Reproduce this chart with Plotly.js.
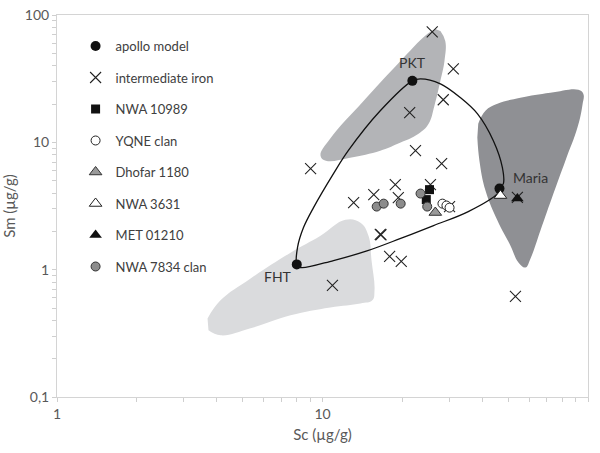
<!DOCTYPE html>
<html><head><meta charset="utf-8">
<script src="https://cdn.plot.ly/plotly-3.0.1.min.js"></script>
<style>html,body{margin:0;padding:0;background:#fff}#chart{width:600px;height:453px}</style>
</head><body><div id="chart"></div>
<script>
// Apollo model end-members
const apolloNames = ["FHT", "PKT", "Maria"];
const apolloSc = [8.0, 21.8, 46.4];
const apolloSm = [1.10, 30.4, 4.33];
// Apollo mixing curve (closed loop)
const curveSc = [8.0, 8.05, 8.48, 9.25, 11.0, 12.5, 16.5, 21.8, 23.4, 27.8, 33.1, 38.3, 44.0, 47.6, 48.0, 46.4, 45.6, 35.4, 26.2, 19.7, 14.8, 11.0, 8.26, 8.0];
const curveSm = [1.10, 1.49, 2.14, 3.07, 5.68, 8.6, 17.7, 30.4, 31.5, 28.8, 22.4, 16.8, 10.3, 6.33, 4.74, 4.33, 3.96, 2.86, 2.22, 1.76, 1.41, 1.18, 1.04, 1.10];
// Fields
const fhtSc = [3.69, 4.13, 5.36, 7.58, 9.83, 12.2, 13.9, 14.9, 15.3, 15.7, 15.4, 13.9, 10.7, 7.58, 5.36, 4.13, 3.72];
const fhtSm = [0.414, 0.574, 0.853, 1.36, 1.85, 2.47, 2.34, 1.85, 1.18, 0.687, 0.574, 0.543, 0.505, 0.438, 0.346, 0.305, 0.334];
const pktSc = [27.8, 29.0, 28.8, 27.8, 26.4, 25.1, 23.0, 19.2, 16.5, 12.7, 10.3, 9.83, 10.7, 14.3, 19.2, 24.8, 26.6];
const pktSm = [75.0, 62.6, 43.6, 30.4, 19.4, 14.0, 11.7, 9.76, 8.6, 7.58, 7.18, 7.86, 10.7, 21.2, 41.3, 71.0, 77.8];
const mariaSc = [38.6, 41.1, 45.6, 55.6, 72.1, 92.0, 96.0, 95.2, 91.2, 82.2, 74.1, 66.2, 60.7, 58.1, 54.7, 51.0, 45.6, 41.1, 39.0, 38.3];
const mariaSm = [14.0, 17.7, 20.1, 22.4, 24.5, 25.9, 24.1, 19.4, 13.0, 7.18, 3.96, 2.03, 1.22, 1.04, 1.14, 1.55, 2.43, 4.18, 7.18, 10.9];
// Samples
const ironSc = [25.9, 31.1, 28.5, 21.3, 22.4, 9.02, 28.1, 25.5, 18.8, 13.1, 15.6, 19.3, 30.1, 16.5, 16.6, 17.9, 19.8, 10.9, 53.3, 54.2];
const ironSm = [73.7, 37.8, 21.6, 17.1, 8.6, 6.21, 6.80, 4.65, 4.65, 3.36, 3.89, 3.68, 3.13, 1.89, 1.88, 1.27, 1.16, 0.752, 0.616, 3.70];
const nwa10989Sc = [25.3, 24.6];
const nwa10989Sm = [4.25, 3.55];
const yqneSc = [28.3, 29.3, 30.1];
const yqneSm = [3.30, 3.19, 3.07];
const dhofarSc = [26.6];
const dhofarSm = [2.81];
const nwa3631Sc = [46.8];
const nwa3631Sm = [3.82];
const metSc = [54.2];
const metSm = [3.62];
const nwa7834Sc = [16.0, 17.0, 19.7, 23.4, 24.8];
const nwa7834Sm = [3.13, 3.30, 3.30, 3.96, 3.13];

const xTicks = [1,2,3,4,5,6,7,8,9,10,20,30,40,50,60,70,80,90,100];
const xTickText = xTicks.map(v => [1,10,100].includes(v) ? String(v) : "");
const yTicks = [0.1,0.2,0.3,0.4,0.5,0.6,0.7,0.8,0.9,1,2,3,4,5,6,7,8,9,10,20,30,40,50,60,70,80,90,100];
const yTickText = yTicks.map(v => ({0.1:"0,1",1:"1",10:"10",100:"100"})[v] || "");

const FONT = "Lato, 'Open Sans', sans-serif";
const txtCol = "#404040";

function field(x, y, color) {
  return {x, y, type: "scatter", mode: "lines", fill: "toself", fillcolor: color,
    line: {width: 0, shape: "spline", smoothing: 1.2, color: color}, showlegend: false, hoverinfo: "skip"};
}
let gi = 0;
function pts(name, x, y, marker) {
  gi++;
  return {x, y, name, type: "scatter", mode: "markers", marker, legendgroup: "g" + gi};
}

const traces = [
  field(fhtSc, fhtSm, "#dadbdd"),
  field(pktSc, pktSm, "#b3b4b7"),
  field(mariaSc, mariaSm, "#8f9094"),
  {x: curveSc, y: curveSm, type: "scatter", mode: "lines", line: {color: "#111", width: 1.3, shape: "spline", smoothing: 1}, showlegend: false, hoverinfo: "skip"},
  pts("apollo model", apolloSc, apolloSm, {symbol: "circle", size: 10, color: "#111", line: {width: 0}}),
  pts("intermediate iron", ironSc, ironSm, {symbol: "x-thin-open", size: 11, color: "#222", line: {width: 1.1, color: "#222"}}),
  pts("NWA 10989", nwa10989Sc, nwa10989Sm, {symbol: "square", size: 9, color: "#111", line: {width: 0}}),
  pts("YQNE clan", yqneSc, yqneSm, {symbol: "circle", size: 9, color: "#fff", line: {width: 1, color: "#222"}}),
  pts("Dhofar 1180", dhofarSc, dhofarSm, {symbol: "triangle-up", size: 11, color: "#9a9a9a", line: {width: 1, color: "#333"}}),
  pts("NWA 3631", nwa3631Sc, nwa3631Sm, {symbol: "triangle-up", size: 11, color: "#fff", line: {width: 1, color: "#222"}}),
  pts("MET 01210", metSc, metSm, {symbol: "triangle-up", size: 11, color: "#111", line: {width: 0}}),
  pts("NWA 7834 clan", nwa7834Sc, nwa7834Sm, {symbol: "circle", size: 9, color: "#8c8c8c", line: {width: 1, color: "#333"}})
];

const axCommon = {type: "log", showgrid: false, zeroline: false, linecolor: "#d4d4d4", linewidth: 1,
  ticks: "outside", ticklen: 4, tickcolor: "#cfcfcf", tickwidth: 1, mirror: true,
  tickfont: {family: FONT, size: 14, color: "#595959"}, tickmode: "array"};

const layout = {
  width: 600, height: 453,
  margin: {l: 57, r: 12, t: 15, b: 56},
  paper_bgcolor: "#fff", plot_bgcolor: "#fff",
  font: {family: FONT, color: txtCol},
  showlegend: true,
  legend: {x: 0.035, y: 0.958, xanchor: "left", yanchor: "top", bgcolor: "rgba(0,0,0,0)",
    font: {family: FONT, size: 13, color: txtCol}, tracegroupgap: 11.6, itemclick: false},
  xaxis: Object.assign({}, axCommon, {range: [0, 2], tickvals: xTicks, ticktext: xTickText,
    title: {text: "Sc (µg/g)", font: {family: FONT, size: 15, color: "#595959"}, standoff: 8}}),
  yaxis: Object.assign({}, axCommon, {range: [-1, 2], tickvals: yTicks, ticktext: yTickText,
    title: {text: "Sm (µg/g)", font: {family: FONT, size: 15, color: "#595959"}, standoff: 8}}),
  xaxis2: {type: "log", overlaying: "x", anchor: "y", range: [0, 2], side: "bottom", showgrid: false, zeroline: false,
    showline: false, ticks: "inside", ticklen: 4, tickcolor: "#cfcfcf", tickmode: "array", tickvals: xTicks, showticklabels: false},
  yaxis2: {type: "log", overlaying: "y", anchor: "x", range: [-1, 2], side: "left", showgrid: false, zeroline: false,
    showline: false, ticks: "inside", ticklen: 4, tickcolor: "#cfcfcf", tickmode: "array", tickvals: yTicks, showticklabels: false},
  annotations: [
    {x: Math.log10(apolloSc[0]), y: Math.log10(apolloSm[0]), xref: "x", yref: "y", text: apolloNames[0], showarrow: false, xshift: -19, yshift: -12, font: {family: FONT, size: 14, color: "#333"}},
    {x: Math.log10(apolloSc[1]), y: Math.log10(apolloSm[1]), xref: "x", yref: "y", text: apolloNames[1], showarrow: false, xshift: 0, yshift: 18, font: {family: FONT, size: 14, color: "#333"}},
    {x: Math.log10(apolloSc[2]), y: Math.log10(apolloSm[2]), xref: "x", yref: "y", text: apolloNames[2], showarrow: false, xshift: 31, yshift: 11, font: {family: FONT, size: 14, color: "#333"}}
  ]
};

Plotly.newPlot("chart", traces, layout, {displayModeBar: false, staticPlot: true});
</script></body></html>
